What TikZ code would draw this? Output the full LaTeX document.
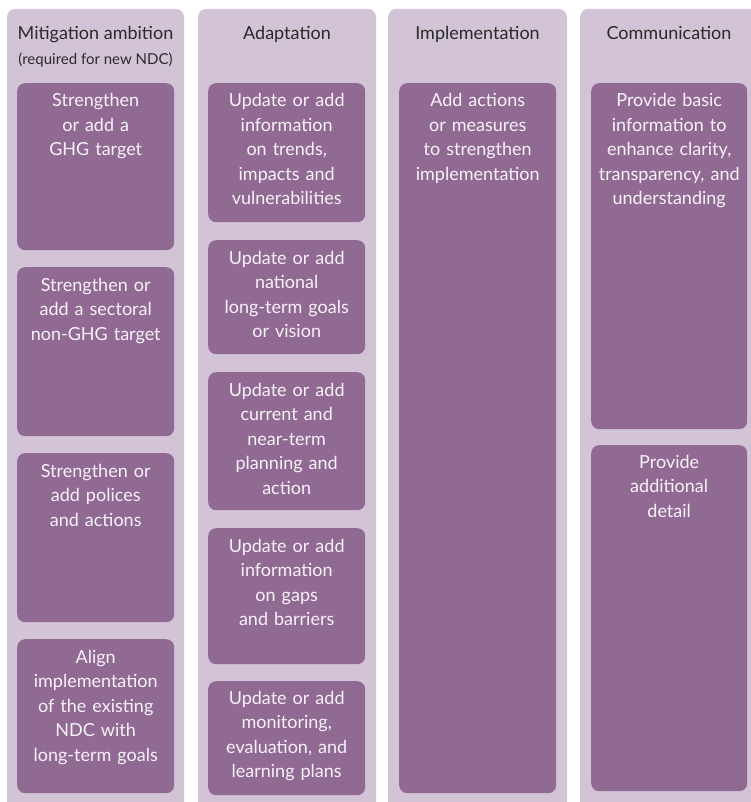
\documentclass[tikz,border=0pt]{standalone}
\usepackage{fontspec}
\setmainfont{Lato}
\definecolor{colbg}{HTML}{D2C3D6}
\definecolor{boxbg}{HTML}{916A93}
\definecolor{boxtext}{HTML}{F7F2F7}
\definecolor{headtext}{HTML}{2A2A2A}
\begin{document}
\begin{tikzpicture}[x=1pt,y=1pt,
  column/.style={fill=colbg, draw=none, rounded corners=8pt},
  itembox/.style={fill=boxbg, draw=none, rounded corners=8pt, anchor=north west, inner sep=0pt},
  itemtext/.style={text=boxtext, anchor=base, align=center, text width=154pt, inner sep=0pt,
    font=\fontsize{18}{24.5}\selectfont},
  headtext/.style={text=headtext, anchor=base, align=center, inner sep=0pt,
    font=\fontsize{18}{20}\selectfont},
  subtext/.style={text=headtext, anchor=base, align=center, inner sep=0pt,
    font=\fontsize{15}{17}\selectfont}]
\clip (0,0) rectangle (751,-802);
\useasboundingbox (0,0) rectangle (751,-802);
% columns
\fill[column] (7,-9) rectangle (184,-815);
\fill[column] (198,-9) rectangle (376,-815);
\fill[column] (388,-9) rectangle (567,-815);
\fill[column] (580,-9) rectangle (765,-815);
% headers
\node[headtext] (h1) at (95.5,-40) {Mitigation ambition};
\node[subtext] (h1s) at (95.5,-65) {(required for new NDC)};
\node[headtext] (h2) at (287,-40) {Adaptation};
\node[headtext] (h3) at (477.5,-40) {Implementation};
\node[headtext] (h4) at (669,-40) {Communication};
% Mitigation boxes
\node[itembox, minimum width=157pt, minimum height=167pt] (m1) at (17,-83) {};
\node[itembox, minimum width=157pt, minimum height=169pt] (m2) at (17,-267) {};
\node[itembox, minimum width=157pt, minimum height=169pt] (m3) at (17,-453) {};
\node[itembox, minimum width=157pt, minimum height=154pt] (m4) at (17,-639) {};
\node[itemtext] (m1t) at ([yshift=-24pt]m1.north) {Strengthen\\or add a\\GHG target};
\node[itemtext] (m2t) at ([yshift=-24pt]m2.north) {Strengthen or\\add a sectoral\\non-GHG target};
\node[itemtext] (m3t) at ([yshift=-24pt]m3.north) {Strengthen or\\add polices\\and actions};
\node[itemtext] (m4t) at ([yshift=-24pt]m4.north) {Align\\implementation\\of the existing\\NDC with\\long-term goals};
% Adaptation boxes
\node[itembox, minimum width=157pt, minimum height=139pt] (a1) at (208,-83) {};
\node[itembox, minimum width=157pt, minimum height=114pt] (a2) at (208,-240) {};
\node[itembox, minimum width=157pt, minimum height=138pt] (a3) at (208,-372) {};
\node[itembox, minimum width=157pt, minimum height=136pt] (a4) at (208,-528) {};
\node[itembox, minimum width=157pt, minimum height=114pt] (a5) at (208,-681) {};
\node[itemtext] (a1t) at ([yshift=-24pt]a1.north) {Update or add\\information\\on trends,\\impacts and\\vulnerabilities};
\node[itemtext] (a2t) at ([yshift=-24pt]a2.north) {Update or add\\national\\long-term goals\\or vision};
\node[itemtext] (a3t) at ([yshift=-24pt]a3.north) {Update or add\\current and\\near-term\\planning and\\action};
\node[itemtext] (a4t) at ([yshift=-24pt]a4.north) {Update or add\\information\\on gaps\\and barriers};
\node[itemtext] (a5t) at ([yshift=-23pt]a5.north) {Update or add\\monitoring,\\evaluation, and\\learning plans};
% Implementation box
\node[itembox, minimum width=157pt, minimum height=710pt] (i1) at (399,-83) {};
\node[itemtext] (i1t) at ([yshift=-24pt]i1.north) {Add actions\\or measures\\to strengthen\\implementation};
% Communication boxes
\node[itembox, minimum width=156pt, minimum height=346pt] (c1) at (591,-83) {};
\node[itembox, minimum width=156pt, minimum height=346pt] (c2) at (591,-445) {};
\node[itemtext] (c1t) at ([yshift=-24pt]c1.north) {Provide basic\\information to\\enhance clarity,\\transparency, and\\understanding};
\node[itemtext] (c2t) at ([yshift=-23pt]c2.north) {Provide\\additional\\detail};
\end{tikzpicture}
\end{document}
